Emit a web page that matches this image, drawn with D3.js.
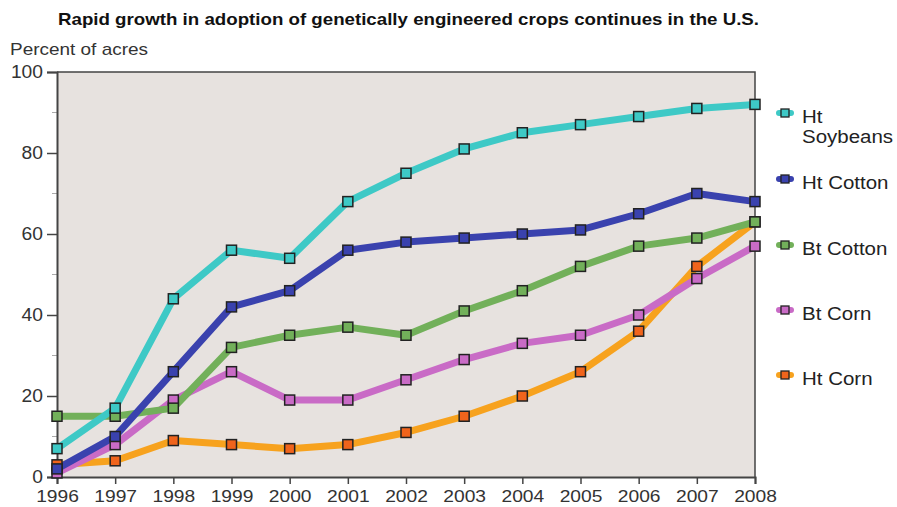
<!DOCTYPE html>
<html>
<head>
<meta charset="utf-8">
<script src="https://cdn.jsdelivr.net/npm/d3@7"></script>
<style>
  html, body { margin: 0; padding: 0; background: #fff; }
  svg { display: block; font-family: "Liberation Sans", Arial, sans-serif; }
</style>
</head>
<body>
<svg id="chart" width="897" height="507"></svg>
<script>
// Adoption of genetically engineered crops in the U.S., percent of acres
const years = [1996, 1997, 1998, 1999, 2000, 2001, 2002, 2003, 2004, 2005, 2006, 2007, 2008];
const htSoybeans = [7, 17, 44, 56, 54, 68, 75, 81, 85, 87, 89, 91, 92];
const htCotton   = [2, 10, 26, 42, 46, 56, 58, 59, 60, 61, 65, 70, 68];
const btCotton   = [15, 15, 17, 32, 35, 37, 35, 41, 46, 52, 57, 59, 63];
const btCorn     = [1, 8, 19, 26, 19, 19, 24, 29, 33, 35, 40, 49, 57];
const htCorn     = [3, 4, 9, 8, 7, 8, 11, 15, 20, 26, 36, 52, 63];
const yTicks = [0, 20, 40, 60, 80, 100];
const yMinorTicks = [10, 30, 50, 70, 90];

const seriesNames = ["Ht Corn", "Bt Corn", "Bt Cotton", "Ht Cotton", "Ht Soybeans"];
const seriesValues = [htCorn, btCorn, btCotton, htCotton, htSoybeans];
const lineColors = ["#f7a21e", "#c96bc6", "#72b05a", "#3a42ae", "#3ec9c6"];
const markerColors = ["#f0641c", "#c96bc6", "#72b05a", "#3a42ae", "#3ec9c6"];
const legendY = [375, 310, 245, 179, 113];

const svg = d3.select("#chart");
const x0 = 57, x1 = 755, y0 = 477, y1 = 72;
const stretch = 1.17; // typeface is set slightly wide

const x = d3.scaleLinear().domain([1996, 2008]).range([x0, x1]);
const y = d3.scaleLinear().domain([0, 100]).range([y0, y1]);

// Widen a text element horizontally around its anchor
function widen(sel, factor) {
  sel.each(function () {
    const w = this.getComputedTextLength();
    d3.select(this).attr("textLength", w * factor).attr("lengthAdjust", "spacingAndGlyphs");
  });
}

// Title and axis caption
svg.append("text")
  .attr("x", 58).attr("y", 25)
  .attr("font-size", 17).attr("font-weight", "bold").attr("fill", "#111")
  .text("Rapid growth in adoption of genetically engineered crops continues in the U.S.")
  .call(sel => sel.attr("textLength", 701).attr("lengthAdjust", "spacingAndGlyphs"));
svg.append("text")
  .attr("x", 10).attr("y", 55)
  .attr("font-size", 17).attr("fill", "#333")
  .text("Percent of acres")
  .call(sel => sel.attr("textLength", 138).attr("lengthAdjust", "spacingAndGlyphs"));

// Plot background
svg.append("rect")
  .attr("x", x0).attr("y", y1)
  .attr("width", x1 - x0).attr("height", y0 - y1)
  .attr("fill", "#e7e2df");

// Frame: top and right edges
svg.append("path")
  .attr("d", `M${x0},${y1}H${x1}V${y0}`)
  .attr("fill", "none").attr("stroke", "#444").attr("stroke-width", 1.5);

// Minor y ticks
svg.append("g").selectAll("line").data(yMinorTicks).join("line")
  .attr("x1", x0 - 5).attr("x2", x0)
  .attr("y1", d => y(d)).attr("y2", d => y(d))
  .attr("stroke", "#aaa").attr("stroke-width", 1);

// Y axis
const yAxis = svg.append("g")
  .attr("transform", `translate(${x0},0)`)
  .call(d3.axisLeft(y).tickValues(yTicks).tickSize(10).tickPadding(4));
yAxis.select(".domain").attr("stroke", "#444").attr("stroke-width", 2);
yAxis.selectAll(".tick line").attr("stroke", "#444").attr("stroke-width", 1.5);
yAxis.selectAll(".tick text")
  .attr("font-size", 17.5).attr("fill", "#333")
  .attr("font-family", "Liberation Sans, Arial, sans-serif")
  .call(widen, 1.1);

// X axis
const xAxis = svg.append("g")
  .attr("transform", `translate(0,${y0})`)
  .call(d3.axisBottom(x).tickValues(years).tickFormat(d3.format("d")).tickSize(7).tickPadding(6));
xAxis.select(".domain").attr("stroke", "#444").attr("stroke-width", 2);
xAxis.selectAll(".tick line").attr("stroke", "#444").attr("stroke-width", 1.5);
xAxis.selectAll(".tick text")
  .attr("font-size", 17).attr("fill", "#333")
  .attr("font-family", "Liberation Sans, Arial, sans-serif")
  .call(widen, 1.13);

// Lines
const line = d3.line()
  .x((d, i) => x(years[i]))
  .y(d => y(d));

seriesValues.forEach((vals, k) => {
  svg.append("path")
    .datum(vals)
    .attr("d", line)
    .attr("fill", "none")
    .attr("stroke", lineColors[k])
    .attr("stroke-width", 7)
    .attr("stroke-linejoin", "round")
    .attr("stroke-linecap", "round");
});

// Markers
const ms = 10;
seriesValues.forEach((vals, k) => {
  svg.append("g").selectAll("rect").data(vals).join("rect")
    .attr("x", (d, i) => x(years[i]) - ms / 2)
    .attr("y", d => y(d) - ms / 2)
    .attr("width", ms).attr("height", ms)
    .attr("fill", markerColors[k])
    .attr("stroke", "#222").attr("stroke-width", 1.5);
});

// Legend
const legend = svg.append("g");
seriesNames.forEach((name, k) => {
  const ly = legendY[k];
  const g = legend.append("g");
  g.append("line")
    .attr("x1", 779).attr("x2", 791)
    .attr("y1", ly).attr("y2", ly)
    .attr("stroke", lineColors[k]).attr("stroke-width", 6)
    .attr("stroke-linecap", "round");
  g.append("rect")
    .attr("x", 781).attr("y", ly - 4).attr("width", 8).attr("height", 8)
    .attr("fill", markerColors[k]).attr("stroke", "#222").attr("stroke-width", 1.3);
  const lines = name === "Ht Soybeans" ? ["Ht", "Soybeans"] : [name];
  lines.forEach((txt, j) => {
    g.append("text")
      .attr("x", 802).attr("y", ly + 10 + j * 20)
      .attr("font-size", 17.5).attr("fill", "#222")
      .text(txt)
      .call(widen, stretch);
  });
});
</script>
</body>
</html>
